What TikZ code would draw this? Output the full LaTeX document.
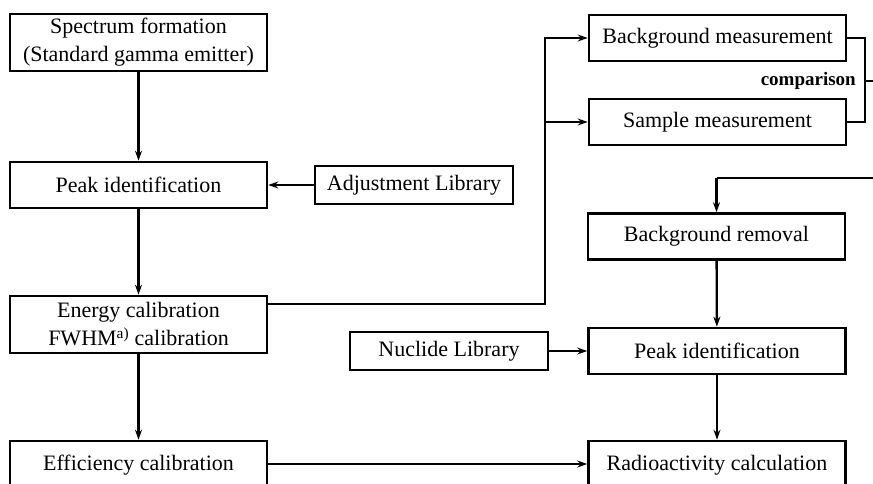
\documentclass[tikz,border=0pt]{standalone}
\usepackage{fontspec}
\setmainfont{Liberation Serif}
\usetikzlibrary{arrows.meta}
\begin{document}
\begin{tikzpicture}[x=1pt,y=1pt,
  box/.style={draw, line width=2.6pt, minimum height=46pt, inner sep=0pt, align=center, font=\fontsize{22}{28}\selectfont},
  wide/.style={box, minimum width=257pt},
  lib/.style={box, minimum width=198pt, minimum height=38pt},
  conn/.style={line width=2.3pt, -{Stealth[length=10pt,width=7pt]}},
  wire/.style={line width=2.6pt}]
\useasboundingbox (0,0) rectangle (873,-484);
\clip (0,0) rectangle (873,-484);
% left column
\node[wide, minimum height=57pt] (spec) at (138.5,-42.5) {Spectrum formation\\(Standard gamma emitter)};
\node[wide] (peakA) at (138.5,-185) {Peak identification};
\node[lib] (adj) at (414,-185) {Adjustment Library};
\node[wide, minimum height=57pt] (energy) at (138.5,-324.5) {Energy calibration\\FWHM\textsuperscript{a)} calibration};
\node[wide, minimum height=48pt] (eff) at (138.5,-465) {Efficiency calibration};
% right column
\node[wide] (bgm) at (717.5,-38) {Background measurement};
\node[wide] (sam) at (717.5,-122) {Sample measurement};
\node[font=\fontsize{19}{22}\selectfont\bfseries, anchor=east, inner sep=0pt] (cmp) at (856,-81) {comparison};
\node[wide] (bgr) at (716.5,-236.5) {Background removal};
\node[lib] (nuc) at (449,-351) {Nuclide Library};
\node[wide] (peakB) at (717,-351) {Peak identification};
\node[wide, minimum height=48pt] (rad) at (717,-465) {Radioactivity calculation};
% junction coordinates
\coordinate (eout) at (energy.east |- 0,-304);
\coordinate (up) at (545,-304);
\coordinate (top) at (545,-38);
\coordinate (mid) at (545,-122);
\coordinate (bra) at (865,-38);
\coordinate (brb) at (865,-122);
\coordinate (brc) at (865,-81);
\coordinate (exitR) at (890,-81);
\coordinate (backR) at (890,-178);
\coordinate (turn) at (716.5,-178);
% connectors
\draw[conn] (spec) -- (peakA);
\draw[conn] (adj) -- (peakA);
\draw[conn] (peakA) -- (energy);
\draw[conn] (energy) -- (eff);
\draw[conn, line width=2.6pt] (eout) -- (up) -- (top) -- (bgm.west);
\draw[conn, line width=2.6pt] (mid) -- (sam.west);
\draw[wire] (bgm.east) -- (bra) -- (brb) -- (sam.east);
\draw[wire] (brc) -- (exitR) -- (backR) -- (turn);
\draw[conn] (turn) -- (bgr.north);
\draw[conn] (bgr) -- (peakB);
\draw[conn, line width=2.6pt] (nuc) -- (peakB);
\draw[conn] (peakB) -- (rad);
\draw[conn, line width=2.6pt] (eff.east |- 0,-464) -- (rad.west |- 0,-464);
\end{tikzpicture}
\end{document}
